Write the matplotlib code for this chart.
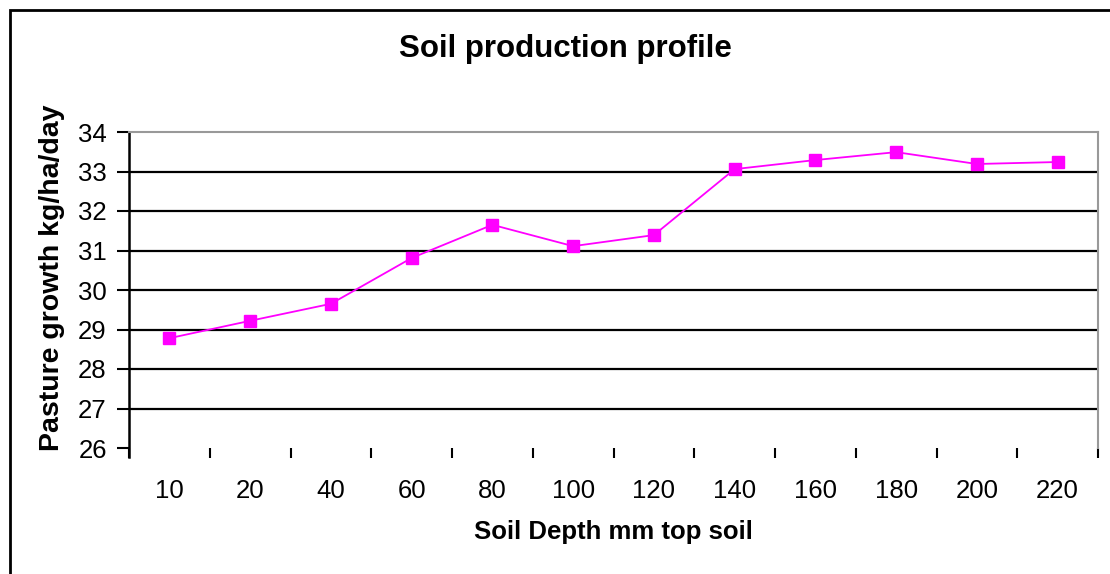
import numpy as np
import matplotlib.pyplot as plt
from matplotlib.patches import Rectangle

plt.rcParams['font.family'] = ['Liberation Sans', 'DejaVu Sans']

depths = ['10', '20', '40', '60', '80', '100', '120', '140', '160', '180', '200', '220']
growth = [28.78, 29.22, 29.65, 30.81, 31.65, 31.11, 31.39, 33.06, 33.29, 33.49, 33.19, 33.24]

fig = plt.figure(figsize=(11.1, 5.74), dpi=100)
ax = fig.add_axes([129/1110, 1-448/574, (1098-129)/1110, (448-132)/574])

# outer chart border (cut off on right and bottom like the original)
fig.patches.append(Rectangle((10/1110, -0.1), 1.2, 1-10/574+0.1, transform=fig.transFigure,
                             fill=False, edgecolor='black', linewidth=2))

x = np.arange(len(depths))
ax.plot(x, growth, color='#ff00ff', linewidth=1.3, marker='s', markersize=8.5, zorder=3)

ax.set_xlim(-0.5, len(depths) - 0.5)
ax.set_ylim(26, 34)
ax.set_yticks(range(26, 35))
for v in range(27, 34):
    ax.axhline(v, color='black', linewidth=1.6, zorder=1)

# category ticks between categories, labels at centres
ax.set_xticks(np.arange(-0.5, len(depths)), [''] * (len(depths) + 1))
ax.set_xticks(x, depths, minor=True)
ax.tick_params(axis='x', which='major', length=7, width=1.5, color='black', direction='out')
ax.tick_params(axis='x', which='minor', length=0, pad=22, labelsize=18.5)
ax.tick_params(axis='y', length=9, width=1.5, pad=7, labelsize=18.5)

ax.spines['bottom'].set_visible(False)
ax.spines['left'].set_linewidth(1.8)
ax.spines['left'].set_bounds(25.78, 34)
ax.spines['top'].set_color('#999999')
ax.spines['right'].set_color('#999999')
ax.spines['top'].set_linewidth(1.5)
ax.spines['right'].set_linewidth(1.5)

fig.text(565/1110, 1-49/574, 'Soil production profile', ha='center', va='center',
         fontsize=22.5, fontweight='bold')
fig.text(613/1110, 1-532/574, 'Soil Depth mm top soil', ha='center', va='center',
         fontsize=18.5, fontweight='bold')
fig.text(52/1110, 1-278/574, 'Pasture growth kg/ha/day', ha='center', va='center',
         rotation=90, fontsize=20.5, fontweight='bold')

fig.savefig('out.png', dpi=100)
